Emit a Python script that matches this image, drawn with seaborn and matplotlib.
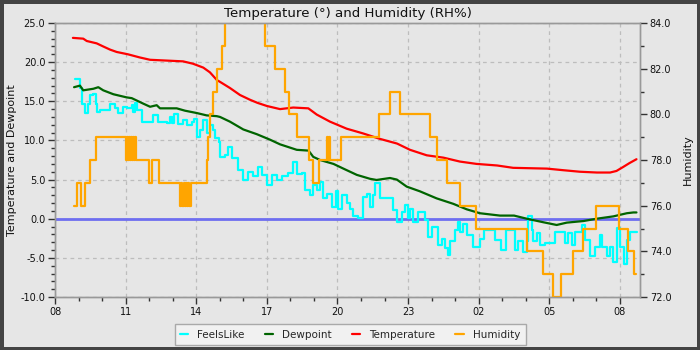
import numpy as np
import pandas as pd
import matplotlib
matplotlib.use("Agg")
import matplotlib.pyplot as plt
import matplotlib.dates as mdates
from matplotlib.ticker import MultipleLocator, FormatStrFormatter
import seaborn as sns

# ---------------- data (hours after 08:00) ----------------
temp_hours = [0.76, 1.20, 1.35, 1.77, 2.05, 2.34, 2.62, 3.10, 3.60, 4.04, 5.44, 5.86,
              6.30, 6.58, 6.88, 7.00, 7.43, 7.86, 8.28, 8.60, 9.00, 9.56, 10.12, 10.76,
              11.12, 11.68, 12.39, 13.08, 13.80, 14.53, 15.08, 15.79, 16.50, 17.20,
              17.91, 18.78, 19.46, 20.90, 21.58, 22.30, 23.02, 23.58, 23.85, 24.13,
              24.40, 24.70]
temperature = [23.1, 23.0, 22.7, 22.4, 22.0, 21.6, 21.3, 21.0, 20.6, 20.3, 20.1, 19.8,
               19.3, 18.7, 17.7, 17.5, 16.7, 15.8, 15.2, 14.8, 14.4, 14.0, 14.2, 14.1,
               13.3, 12.4, 11.5, 10.9, 10.2, 9.6, 8.8, 8.1, 7.8, 7.3,
               7.0, 6.8, 6.5, 6.4, 6.2, 6.0, 5.9, 5.9, 6.1, 6.6,
               7.1, 7.6]

dew_hours = [0.81, 1.06, 1.20, 1.63, 1.84, 2.05, 2.48, 3.04, 3.26, 3.75, 4.04, 4.32,
             4.46, 5.17, 5.52, 6.02, 6.44, 6.87, 7.01, 7.43, 8.00, 8.57, 9.13, 9.56,
             10.27, 10.77, 10.97, 11.26, 11.83, 12.25, 12.82, 13.38, 13.66, 14.23,
             14.52, 14.94, 15.50, 16.21, 16.92, 17.49, 18.05, 18.90, 19.50, 20.04,
             20.74, 21.31, 21.74, 22.44, 23.01, 23.72, 24.29, 24.57, 24.70]
dewpoint = [16.8, 17.0, 16.4, 16.6, 16.8, 16.4, 15.9, 15.5, 15.4, 14.7, 14.3, 14.5,
            14.1, 14.1, 13.8, 13.5, 13.2, 13.1, 13.0, 12.4, 11.4, 10.8, 10.1, 9.5,
            8.8, 8.7, 7.9, 7.5, 7.0, 6.4, 5.6, 5.1, 4.95, 5.2,
            5.0, 4.1, 3.5, 2.6, 1.9, 1.2, 0.7, 0.4, 0.4, 0.0,
            -0.45, -0.8, -0.5, -0.3, 0.0, 0.3, 0.7, 0.8, 0.8]

feels_hours = [0.85, 1.06, 1.13, 1.27, 1.42, 1.49, 1.63, 1.74, 1.80, 1.91, 2.34, 2.55,
               2.69, 2.90, 3.04, 3.26, 3.33, 3.40, 3.50, 3.68, 3.96, 4.18, 4.39, 4.74,
               4.89, 4.95, 5.05, 5.24, 5.45, 5.59, 5.81, 5.90, 6.02, 6.16, 6.30, 6.44,
               6.58, 6.73, 6.80, 6.95, 7.01, 7.22, 7.36, 7.50, 7.79, 8.00, 8.21, 8.42,
               8.64, 8.78, 8.99, 9.21, 9.42, 9.63, 9.91, 10.12, 10.27, 10.48, 10.62,
               10.83, 10.97, 11.12, 11.26, 11.40, 11.54, 11.75, 11.94, 12.04, 12.18,
               12.39, 12.53, 12.67, 12.89, 13.10, 13.24, 13.38, 13.50, 13.59, 13.81,
               14.37, 14.52, 14.73, 14.87, 15.01, 15.08, 15.22, 15.43, 15.72, 15.86,
               16.00, 16.28, 16.43, 16.57, 16.71, 16.78, 16.99, 17.13, 17.20, 17.35,
               17.49, 17.77, 18.05, 18.22, 18.69, 18.94, 19.16, 19.54, 19.68, 19.89,
               20.04, 20.11, 20.25, 20.32, 20.46, 20.60, 20.82, 21.24, 21.67, 21.81,
               21.95, 22.09, 22.37, 22.51, 22.73, 22.94, 23.15, 23.22, 23.44, 23.58,
               23.72, 23.86, 24.00, 24.17, 24.29, 24.43, 24.71]
feelslike = [17.8, 16.7, 14.7, 13.5, 14.7, 15.8, 15.9, 14.7, 13.6, 13.9, 14.7, 14.1,
             13.5, 14.3, 14.1, 14.5, 13.6, 14.8, 13.9, 12.4, 12.3, 13.2, 12.3, 12.2,
             13.0, 12.2, 13.4, 12.1, 12.6, 12.0, 12.3, 12.7, 10.5, 11.3, 12.6, 10.9,
             12.0, 11.3, 10.3, 9.8, 7.9, 8.2, 9.2, 7.7, 6.2, 5.0, 6.0, 5.4,
             6.6, 5.6, 4.3, 5.6, 5.0, 5.4, 5.9, 7.3, 5.7, 5.9, 3.7,
             3.0, 4.3, 3.7, 4.7, 2.6, 3.2, 1.5, 3.5, 1.3, 3.0,
             2.0, 1.3, 0.3, 0.1, 2.8, 3.2, 1.5, 3.0, 4.5, 2.6,
             1.1, -0.4, 0.9, 1.8, 0.1, 1.3, -0.4, 0.9, -0.2, -2.3,
             -1.0, -3.4, -2.6, -3.8, -4.6, -2.9, -1.4, -0.4, -1.7, -0.7,
             -2.1, -3.6, -2.6, -1.4, -2.7, -4.0, -1.4, -4.0, -2.9, -4.2,
             -2.9, 0.3, -1.4, -2.9, -1.8, -3.4, -3.1, -1.7, -3.1, -1.8,
             -3.4, -1.7, -0.8, -2.7, -4.8, -3.6, -2.1, -3.6, -4.8, -3.6,
             -5.5, -1.2, -3.6, -5.8, -2.7, -1.7, -1.7]

hum_hours = [0.81, 0.95, 1.09, 1.27, 1.49, 1.74,
             3.02, 3.06, 3.10, 3.14, 3.18, 3.22, 3.26, 3.30, 3.34, 3.38, 3.44,
             4.01, 4.11, 4.42,
             5.31, 5.36, 5.41, 5.46, 5.51, 5.56, 5.61, 5.66, 5.71, 5.76, 5.81,
             6.44, 6.51, 6.60, 6.72, 6.87, 7.08, 7.22, 8.92, 9.35, 9.77, 9.94,
             10.27, 10.80, 10.95, 11.23, 11.57, 11.61, 11.65, 11.68, 12.15, 13.76,
             14.23, 14.66, 15.93, 16.23, 16.65, 17.20, 17.88, 20.04, 20.74, 21.14,
             21.50, 22.02, 22.44, 22.98, 23.96, 24.36, 24.60, 24.70]
humidity = [76, 77, 76, 77, 78, 79,
            78, 79, 78, 79, 78, 79, 78, 79, 78, 79, 78,
            77, 78, 77,
            76, 77, 76, 77, 76, 77, 76, 77, 76, 77, 77,
            78, 79, 80, 81, 82, 83, 86, 83, 82, 81, 80,
            79, 78, 77, 78, 79, 78, 79, 78, 79, 80,
            81, 80, 79, 78, 77, 76, 75, 74, 73, 72,
            73, 74, 75, 76, 75, 74, 73, 73]

# ---------------- plotting ----------------
base = pd.Timestamp("2024-03-10 08:00")
def to_time(h):
    return base + pd.to_timedelta(np.array(h), unit="h")

df_t = pd.DataFrame({"time": to_time(temp_hours), "val": temperature})
df_d = pd.DataFrame({"time": to_time(dew_hours), "val": dewpoint})
df_f = pd.DataFrame({"time": to_time(feels_hours), "val": feelslike})
df_h = pd.DataFrame({"time": to_time(hum_hours), "val": humidity})

sns.set_theme(style="white")
plt.rcParams["font.family"] = ["DejaVu Sans"]

BG = "#e6e6e6"
fig = plt.figure(figsize=(7, 3.5), dpi=100, facecolor=BG)
ax = fig.add_axes([55 / 700, 53 / 350, 585 / 700, 274 / 350])
ax.set_facecolor(BG)

ax.axhline(0, color="#6e6ef0", lw=2, zorder=1)

lw = 1.6
sns.lineplot(data=df_f, x="time", y="val", ax=ax, color="#00ffff", lw=lw,
             drawstyle="steps-post", estimator=None, sort=False, label="FeelsLike", zorder=3)
sns.lineplot(data=df_d, x="time", y="val", ax=ax, color="#006400", lw=lw,
             estimator=None, sort=False, label="Dewpoint", zorder=4)
sns.lineplot(data=df_t, x="time", y="val", ax=ax, color="#ff0000", lw=lw,
             estimator=None, sort=False, label="Temperature", zorder=5)

ax2 = ax.twinx()
sns.lineplot(data=df_h, x="time", y="val", ax=ax2, color="#ffa500", lw=lw,
             drawstyle="steps-post", estimator=None, sort=False, label="Humidity")

ax.set_xlim(base, base + pd.Timedelta(hours=24.85))
ax.set_ylim(-10, 25)
ax2.set_ylim(72, 84)

ax.xaxis.set_major_locator(mdates.HourLocator(byhour=[2, 5, 8, 11, 14, 17, 20, 23]))
ax.xaxis.set_minor_locator(mdates.HourLocator())
ax.xaxis.set_major_formatter(mdates.DateFormatter("%H"))
ax.yaxis.set_major_locator(MultipleLocator(5))
ax.yaxis.set_minor_locator(MultipleLocator(1))
ax.yaxis.set_major_formatter(FormatStrFormatter("%.1f"))
ax2.yaxis.set_major_locator(MultipleLocator(2))
ax2.yaxis.set_minor_locator(MultipleLocator(1))
ax2.yaxis.set_major_formatter(FormatStrFormatter("%.1f"))

for a in (ax, ax2):
    a.tick_params(axis="both", which="major", direction="out", length=5, width=1,
                  color="#333333", labelsize=7, labelcolor="#111111", pad=2)
    a.tick_params(axis="both", which="minor", direction="out", length=3, width=1,
                  color="#333333")
    for s in a.spines.values():
        s.set_color("#999999")
        s.set_linewidth(1)
ax2.tick_params(axis="y", which="major", left=False, right=True)
ax.tick_params(axis="y", which="both", left=True)
ax.tick_params(axis="x", which="both", bottom=True)

ax.grid(True, which="major", color="#bdbdbd", linestyle=(0, (3, 3)), lw=0.9)
ax.set_axisbelow(True)

ax.set_xlabel("")
ax.set_ylabel("Temperature and Dewpoint", fontsize=8, color="#111111")
ax.yaxis.set_label_coords(-0.065, 0.5)
ax2.set_ylabel("Humidity", fontsize=8, color="#111111")
ax2.yaxis.set_label_coords(1.073, 0.5)
ax.set_title("Temperature (°) and Humidity (RH%)", fontsize=9.6, color="#111111", pad=4)

h1, l1 = ax.get_legend_handles_labels()
h2, l2 = ax2.get_legend_handles_labels()
if ax.get_legend():
    ax.get_legend().remove()
if ax2.get_legend():
    ax2.get_legend().remove()
leg = fig.legend(h1 + h2, l1 + l2, loc="lower center", bbox_to_anchor=(0.5, 0.0),
                 ncol=4, fontsize=7.5, frameon=True, handlelength=0.8, handletextpad=0.9,
                 columnspacing=1.9, borderpad=0.5, fancybox=False)
leg.get_frame().set_facecolor("#f4f4f4")
leg.get_frame().set_edgecolor("#999999")
leg.get_frame().set_linewidth(1)

fig.patch.set_edgecolor("#444444")
fig.patch.set_linewidth(5)
fig.savefig("out.png", dpi=100, facecolor=fig.get_facecolor(), edgecolor=fig.get_edgecolor())
